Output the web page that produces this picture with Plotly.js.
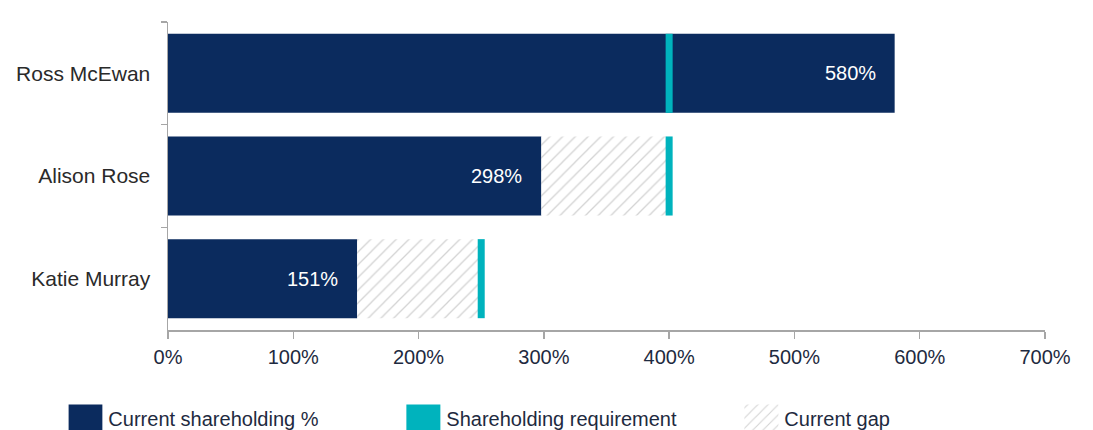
<!DOCTYPE html>
<html>
<head>
<meta charset="utf-8">
<script src="https://cdn.plot.ly/plotly-3.0.1.min.js"></script>
<style>
html,body{margin:0;padding:0;background:#fff;}
#chart{width:1093px;height:430px;}
</style>
</head>
<body>
<div id="chart"></div>
<script>
const names = ["Ross McEwan", "Alison Rose", "Katie Murray"];
const currentHolding = [580, 298, 151];
const requirement = [400, 400, 250];
const tickVals = [0, 100, 200, 300, 400, 500, 600, 700];
const tickText = ["0%", "100%", "200%", "300%", "400%", "500%", "600%", "700%"];
const seriesNames = ["Current shareholding %", "Shareholding requirement", "Current gap"];

const NAVY = "#0b2b5e";
const TEAL = "#00b3bd";
const MARK_W = 5.6; // visual thickness of requirement marker, in axis units
const BAR_W = 0.77;

const gapBase = currentHolding.map((c, i) => Math.min(c, requirement[i]));
const gapLen = currentHolding.map((c, i) => Math.max(0, requirement[i] - c));

const traces = [
  {
    type: "bar", orientation: "h", name: seriesNames[0], legendrank: 1,
    y: names, x: currentHolding, base: 0, width: BAR_W,
    marker: {color: NAVY, line: {width: 0}},
    hoverinfo: "skip"
  },
  {
    type: "bar", orientation: "h", name: seriesNames[2], legendrank: 3,
    y: names, x: gapLen, base: gapBase, width: BAR_W,
    marker: {color: "#ffffff", line: {width: 0},
      pattern: {shape: "/", fgcolor: "#d3d3d3", bgcolor: "#ffffff", size: 9, solidity: 0.14}},
    hoverinfo: "skip"
  },
  {
    type: "bar", orientation: "h", name: seriesNames[1], legendrank: 2,
    y: names, x: requirement.map(() => MARK_W), base: requirement.map(r => r - MARK_W / 2), width: BAR_W,
    marker: {color: TEAL, line: {width: 0}},
    hoverinfo: "skip"
  }
];

const annotations = currentHolding.map((v, i) => ({
  x: v, y: names[i], xref: "x", yref: "y",
  text: v + "%", showarrow: false, xanchor: "right", xshift: -17,
  font: {family: "Liberation Sans, Arial, sans-serif", size: 20, color: "#ffffff"}
}));

const layout = {
  width: 1093, height: 430,
  margin: {l: 168, r: 48, t: 22, b: 100, autoexpand: false},
  paper_bgcolor: "#ffffff", plot_bgcolor: "#ffffff",
  barmode: "overlay",
  font: {family: "Liberation Sans, Arial, sans-serif", size: 20, color: "#1e2a40"},
  xaxis: {
    range: [0, 700], tickvals: tickVals, ticktext: tickText,
    showgrid: false, zeroline: false,
    showline: true, linecolor: "#a6a6a6", linewidth: 1.5,
    ticks: "outside", ticklen: 7, tickcolor: "#a6a6a6", tickwidth: 1.5,
    tickfont: {size: 20, color: "#1e2a40"}, ticklabelstandoff: 1,
    fixedrange: true, automargin: false
  },
  yaxis: {
    type: "category", autorange: "reversed",
    showgrid: false, zeroline: false,
    showline: true, linecolor: "#a6a6a6", linewidth: 1.5,
    ticks: "outside", tickson: "boundaries", ticklen: 6, tickcolor: "#a6a6a6", tickwidth: 1.5,
    tickfont: {size: 21, color: "#2a2a2a"}, ticklabelstandoff: 12,
    fixedrange: true, automargin: false
  },
  showlegend: true,
  legend: {
    orientation: "h",
    x: -0.1136, xanchor: "left", y: -0.224, yanchor: "top",
    entrywidth: 293, entrywidthmode: "pixels",
    font: {size: 20, color: "#1e2a40"},
    bgcolor: "rgba(0,0,0,0)", traceorder: "normal"
  },
  annotations: annotations
};

Plotly.newPlot("chart", traces, layout, {staticPlot: true, displayModeBar: false}).then(function () {
  document.querySelectorAll(".legend .legendpoints path").forEach(function (p) {
    p.setAttribute("d", "M14,14H-20V-14H14Z");
  });
});
</script>
</body>
</html>
